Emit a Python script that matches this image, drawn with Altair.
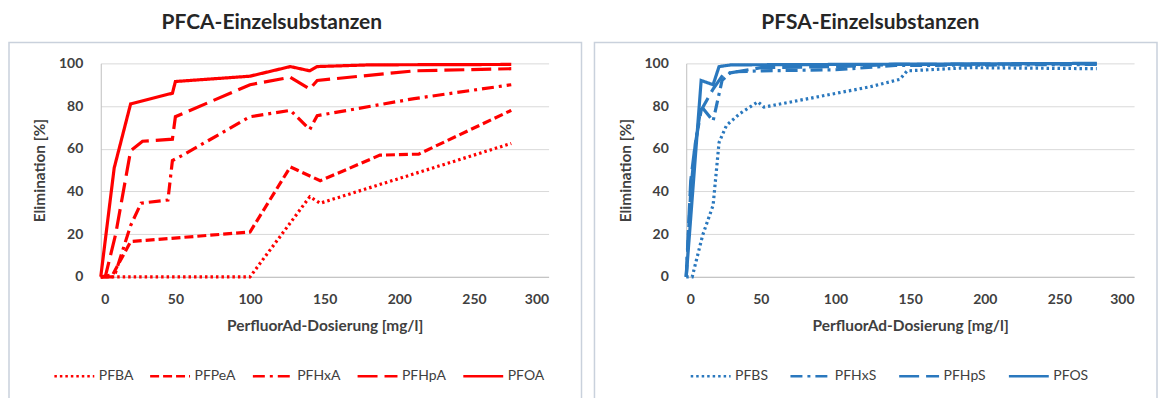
import altair as alt
import pandas as pd

# ---------------- data ----------------
pfca_names = ["PFBA", "PFPeA", "PFHxA", "PFHpA", "PFOA"]
pfba_x = [0, 100, 140, 147, 275]
pfba_y = [0, 0, 37.5, 34.5, 62.5]
pfpea_x = [0, 8, 20, 100, 127, 147, 187, 213, 275]
pfpea_y = [0, 1, 16.5, 21, 51.5, 45, 57, 57.5, 78]
pfhxa_x = [0, 9, 20, 27, 45, 48, 55, 100, 127, 140, 145, 210, 275]
pfhxa_y = [0, 0, 24, 34.5, 36, 54.5, 57, 75, 78, 69, 75.5, 83.5, 90]
pfhpa_x = [0, 3, 10, 20, 28, 48, 50, 100, 127, 140, 145, 210, 275]
pfhpa_y = [0, 0, 20, 59, 63.5, 64.5, 75, 90, 93.5, 88, 92, 96.5, 97.5]
pfoa_x = [0, 9, 20, 45, 48, 50, 100, 127, 140, 145, 180, 275]
pfoa_y = [0, 51, 81, 85.5, 86, 91.5, 94, 98.5, 96.5, 98.5, 99.3, 99.5]

pfsa_names = ["PFBS", "PFHxS", "PFHpS", "PFOS"]
pfbs_x = [0, 4, 11, 18, 22, 27, 36, 48, 52, 123, 143, 148, 190, 275]
pfbs_y = [0, 0, 19.5, 33.5, 63, 71, 76.5, 82, 79.5, 89, 92.5, 96.5, 98, 97.5]
pfhxs_x = [0, 3, 6, 10, 18, 24, 30, 50, 100, 140, 275]
pfhxs_y = [0, 40, 62, 80, 73, 92, 96, 96.5, 97, 99, 99.5]
pfhps_x = [0, 3, 6, 10, 18, 25, 50, 100, 140, 275]
pfhps_y = [0, 45, 62, 78, 88, 95, 98, 98.5, 99.5, 99.8]
pfos_x = [0, 10, 18, 22, 30, 275]
pfos_y = [0, 92, 90, 98.5, 99.3, 100]

x_ticks = [0, 50, 100, 150, 200, 250, 300]
y_ticks = [0, 20, 40, 60, 80, 100]

RED = "#FF0000"
BLUE = "#2A78BE"
FONT = "Lato"
TXT = "#404040"


def long_df(names, xs_list, ys_list):
    rows = []
    for n, xs, ys in zip(names, xs_list, ys_list):
        for i, (xv, yv) in enumerate(zip(xs, ys)):
            rows.append({"series": n, "x": xv, "y": yv, "i": i})
    return pd.DataFrame(rows)


pfca_df = long_df(pfca_names, [pfba_x, pfpea_x, pfhxa_x, pfhpa_x, pfoa_x],
                  [pfba_y, pfpea_y, pfhxa_y, pfhpa_y, pfoa_y])
pfsa_df = long_df(pfsa_names, [pfbs_x, pfhxs_x, pfhps_x, pfos_x],
                  [pfbs_y, pfhxs_y, pfhps_y, pfos_y])

W, H = 449, 214


def panel(df, names, dashes, color, title, title_dx, legend_x, box_right, col_pad):
    box = alt.Chart(pd.DataFrame({"a": [0]})).mark_rect(
        fill="white", fillOpacity=0, stroke="#C9D1DC", strokeWidth=1.5
    ).encode(
        x=alt.value(-92), x2=alt.value(box_right),
        y=alt.value(-21), y2=alt.value(340),
    )
    lines = alt.Chart(df).mark_line(strokeWidth=3.2, color=color, clip=False).encode(
        x=alt.X("x:Q", scale=alt.Scale(domain=[0, 300], nice=False),
                axis=alt.Axis(values=x_ticks, title="PerfluorAd-Dosierung [mg/l]",
                              grid=False, ticks=False, domainColor="#BFBFBF",
                              labelPadding=16, titlePadding=12)),
        y=alt.Y("y:Q", scale=alt.Scale(domain=[0, 100], nice=False),
                axis=alt.Axis(values=y_ticks, title="Elimination [%]", grid=True,
                              gridColor="#D9D9D9", ticks=False, domainColor="#BFBFBF",
                              labelPadding=18, titlePadding=11)),
        strokeDash=alt.StrokeDash(
            "series:N",
            scale=alt.Scale(domain=names, range=dashes),
            sort=names,
            legend=alt.Legend(
                orient="none", legendX=legend_x, legendY=292, direction="horizontal",
                title=None, symbolType="stroke", symbolSize=1600,
                symbolStrokeWidth=2.5, symbolStrokeColor=color,
                labelFont=FONT, labelFontSize=14, labelColor=TXT,
                labelOffset=3, columnPadding=col_pad,
            ),
        ),
        order="i:Q",
    )
    return alt.layer(box, lines).properties(
        width=W, height=H,
        title=alt.TitleParams(title, fontSize=21, font=FONT, fontWeight="bold",
                              color="#262626", anchor="middle", frame="group",
                              dx=title_dx, offset=9),
    )


red_dashes = [[2.5, 3], [9, 4], [12, 5, 3, 5], [20, 7], [1, 0]]
blue_dashes = [[2.5, 3], [12, 5, 3, 5], [20, 7], [1, 0]]

left = panel(pfca_df, pfca_names, red_dashes, RED, "PFCA-Einzelsubstanzen",
             -53, -48, 482, 11)
right = panel(pfsa_df, pfsa_names, blue_dashes, BLUE, "PFSA-Einzelsubstanzen",
              -40, 3, 472, 17)

chart = alt.hconcat(left, right, spacing=11).resolve_scale(
    strokeDash="independent"
).resolve_legend(strokeDash="independent").configure(
    padding={"top": 3, "left": 0, "right": 0, "bottom": 0}, background="white"
).configure_view(stroke=None).configure_axis(
    labelFont=FONT, labelFontSize=14, labelFontWeight="bold", labelColor=TXT,
    titleFont=FONT, titleFontSize=15.5, titleFontWeight="bold", titleColor=TXT,
)

chart.save("out.html", embed_options={"renderer": "svg", "actions": False})
